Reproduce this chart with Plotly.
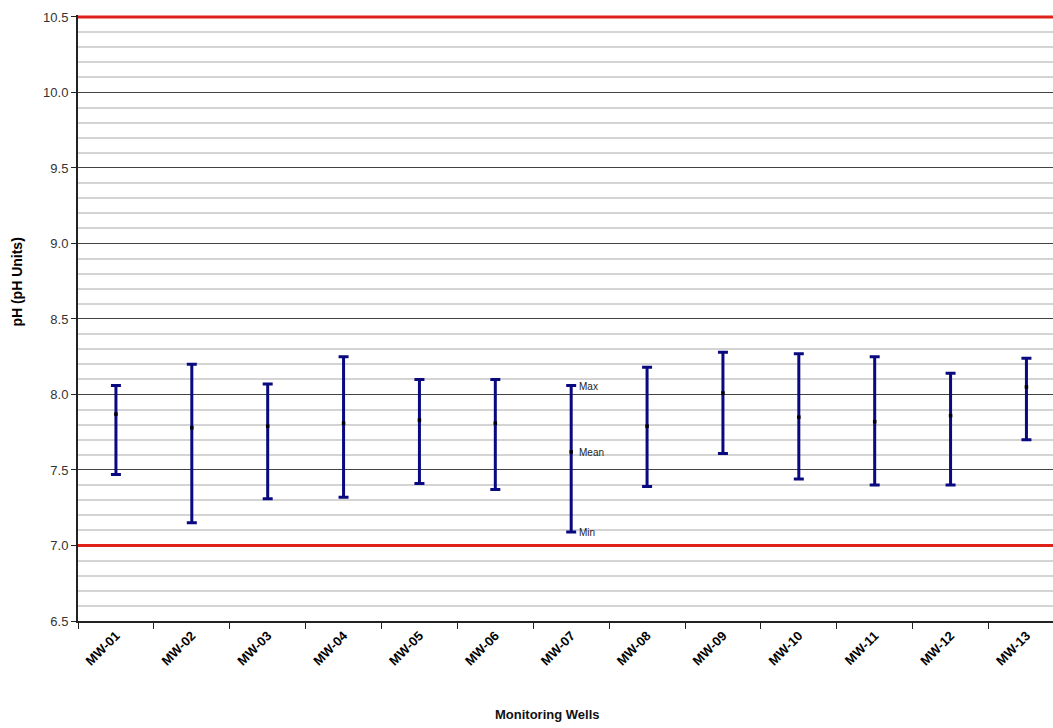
import plotly.graph_objects as go

# pH statistics per monitoring well
wells = ["MW-01", "MW-02", "MW-03", "MW-04", "MW-05", "MW-06", "MW-07",
         "MW-08", "MW-09", "MW-10", "MW-11", "MW-12", "MW-13"]
ph_max = [8.06, 8.20, 8.07, 8.25, 8.10, 8.10, 8.06, 8.18, 8.28, 8.27, 8.25, 8.14, 8.24]
ph_mean = [7.87, 7.78, 7.79, 7.81, 7.83, 7.81, 7.62, 7.79, 8.01, 7.85, 7.82, 7.86, 8.05]
ph_min = [7.47, 7.15, 7.31, 7.32, 7.41, 7.37, 7.09, 7.39, 7.61, 7.44, 7.40, 7.40, 7.70]

# Acceptable pH range limits
ph_limits = [7.0, 10.5]

# Well whose whisker is labelled
labelled_well = "MW-07"

NAVY = "#0a0a80"
FONT = "Liberation Sans, Arial"

fig = go.Figure()

fig.add_trace(go.Scatter(
    x=wells,
    y=ph_mean,
    mode="markers",
    marker=dict(color="black", size=3.5, symbol="square"),
    error_y=dict(
        type="data",
        symmetric=False,
        array=[mx - mn for mx, mn in zip(ph_max, ph_mean)],
        arrayminus=[mn - lo for mn, lo in zip(ph_mean, ph_min)],
        color=NAVY,
        thickness=3,
        width=5,
    ),
    showlegend=False,
    cliponaxis=False,
))

for lim in ph_limits:
    fig.add_shape(type="line", xref="paper", x0=0, x1=1, yref="y", y0=lim, y1=lim,
                  line=dict(color="#e0201b", width=3), layer="above")

i = wells.index(labelled_well)
for text, val in (("Max", ph_max[i]), ("Mean", ph_mean[i]), ("Min", ph_min[i])):
    fig.add_annotation(x=wells[i], y=val, text=text, showarrow=False,
                       xanchor="left", xshift=6, yshift=-1,
                       font=dict(family=FONT, size=10, color="#222"))

fig.add_annotation(xref="paper", yref="paper", x=-0.0626, y=0.56,
                   xanchor="center", yanchor="middle",
                   text="<b>pH (pH Units)</b>", textangle=-90, showarrow=False,
                   font=dict(family=FONT, size=14, color="black"))
fig.add_annotation(xref="paper", yref="paper", x=0.481, y=-0.155,
                   xanchor="center", yanchor="middle",
                   text="<b>Monitoring Wells</b>", showarrow=False,
                   font=dict(family=FONT, size=13, color="#111"))

fig.update_layout(
    width=1053, height=728,
    margin=dict(l=78, r=0, t=15, b=107),
    paper_bgcolor="white",
    plot_bgcolor="white",
    font=dict(family=FONT, color="#333"),
    xaxis=dict(
        type="category",
        range=[-0.5, 12.35],
        tickangle=-45,
        tickson="boundaries",
        ticks="outside",
        ticklen=6,
        tickcolor="#222",
        tickfont=dict(family=FONT, size=13, color="black", weight="bold"),
        showline=True, linecolor="#222", linewidth=2,
        showgrid=False,
        zeroline=False,
    ),
    yaxis=dict(
        range=[6.5, 10.513],
        dtick=0.5,
        tick0=6.5,
        tickformat=".1f",
        ticks="outside",
        ticklen=5,
        tickcolor="#222",
        tickfont=dict(size=13, color="#333"),
        showline=True, linecolor="#222", linewidth=2,
        showgrid=True, gridcolor="#444", gridwidth=1,
        minor=dict(dtick=0.1, showgrid=True, gridcolor="#d4d4d4", gridwidth=1.5),
        zeroline=False,
    ),
)

fig.write_html("out.html")
